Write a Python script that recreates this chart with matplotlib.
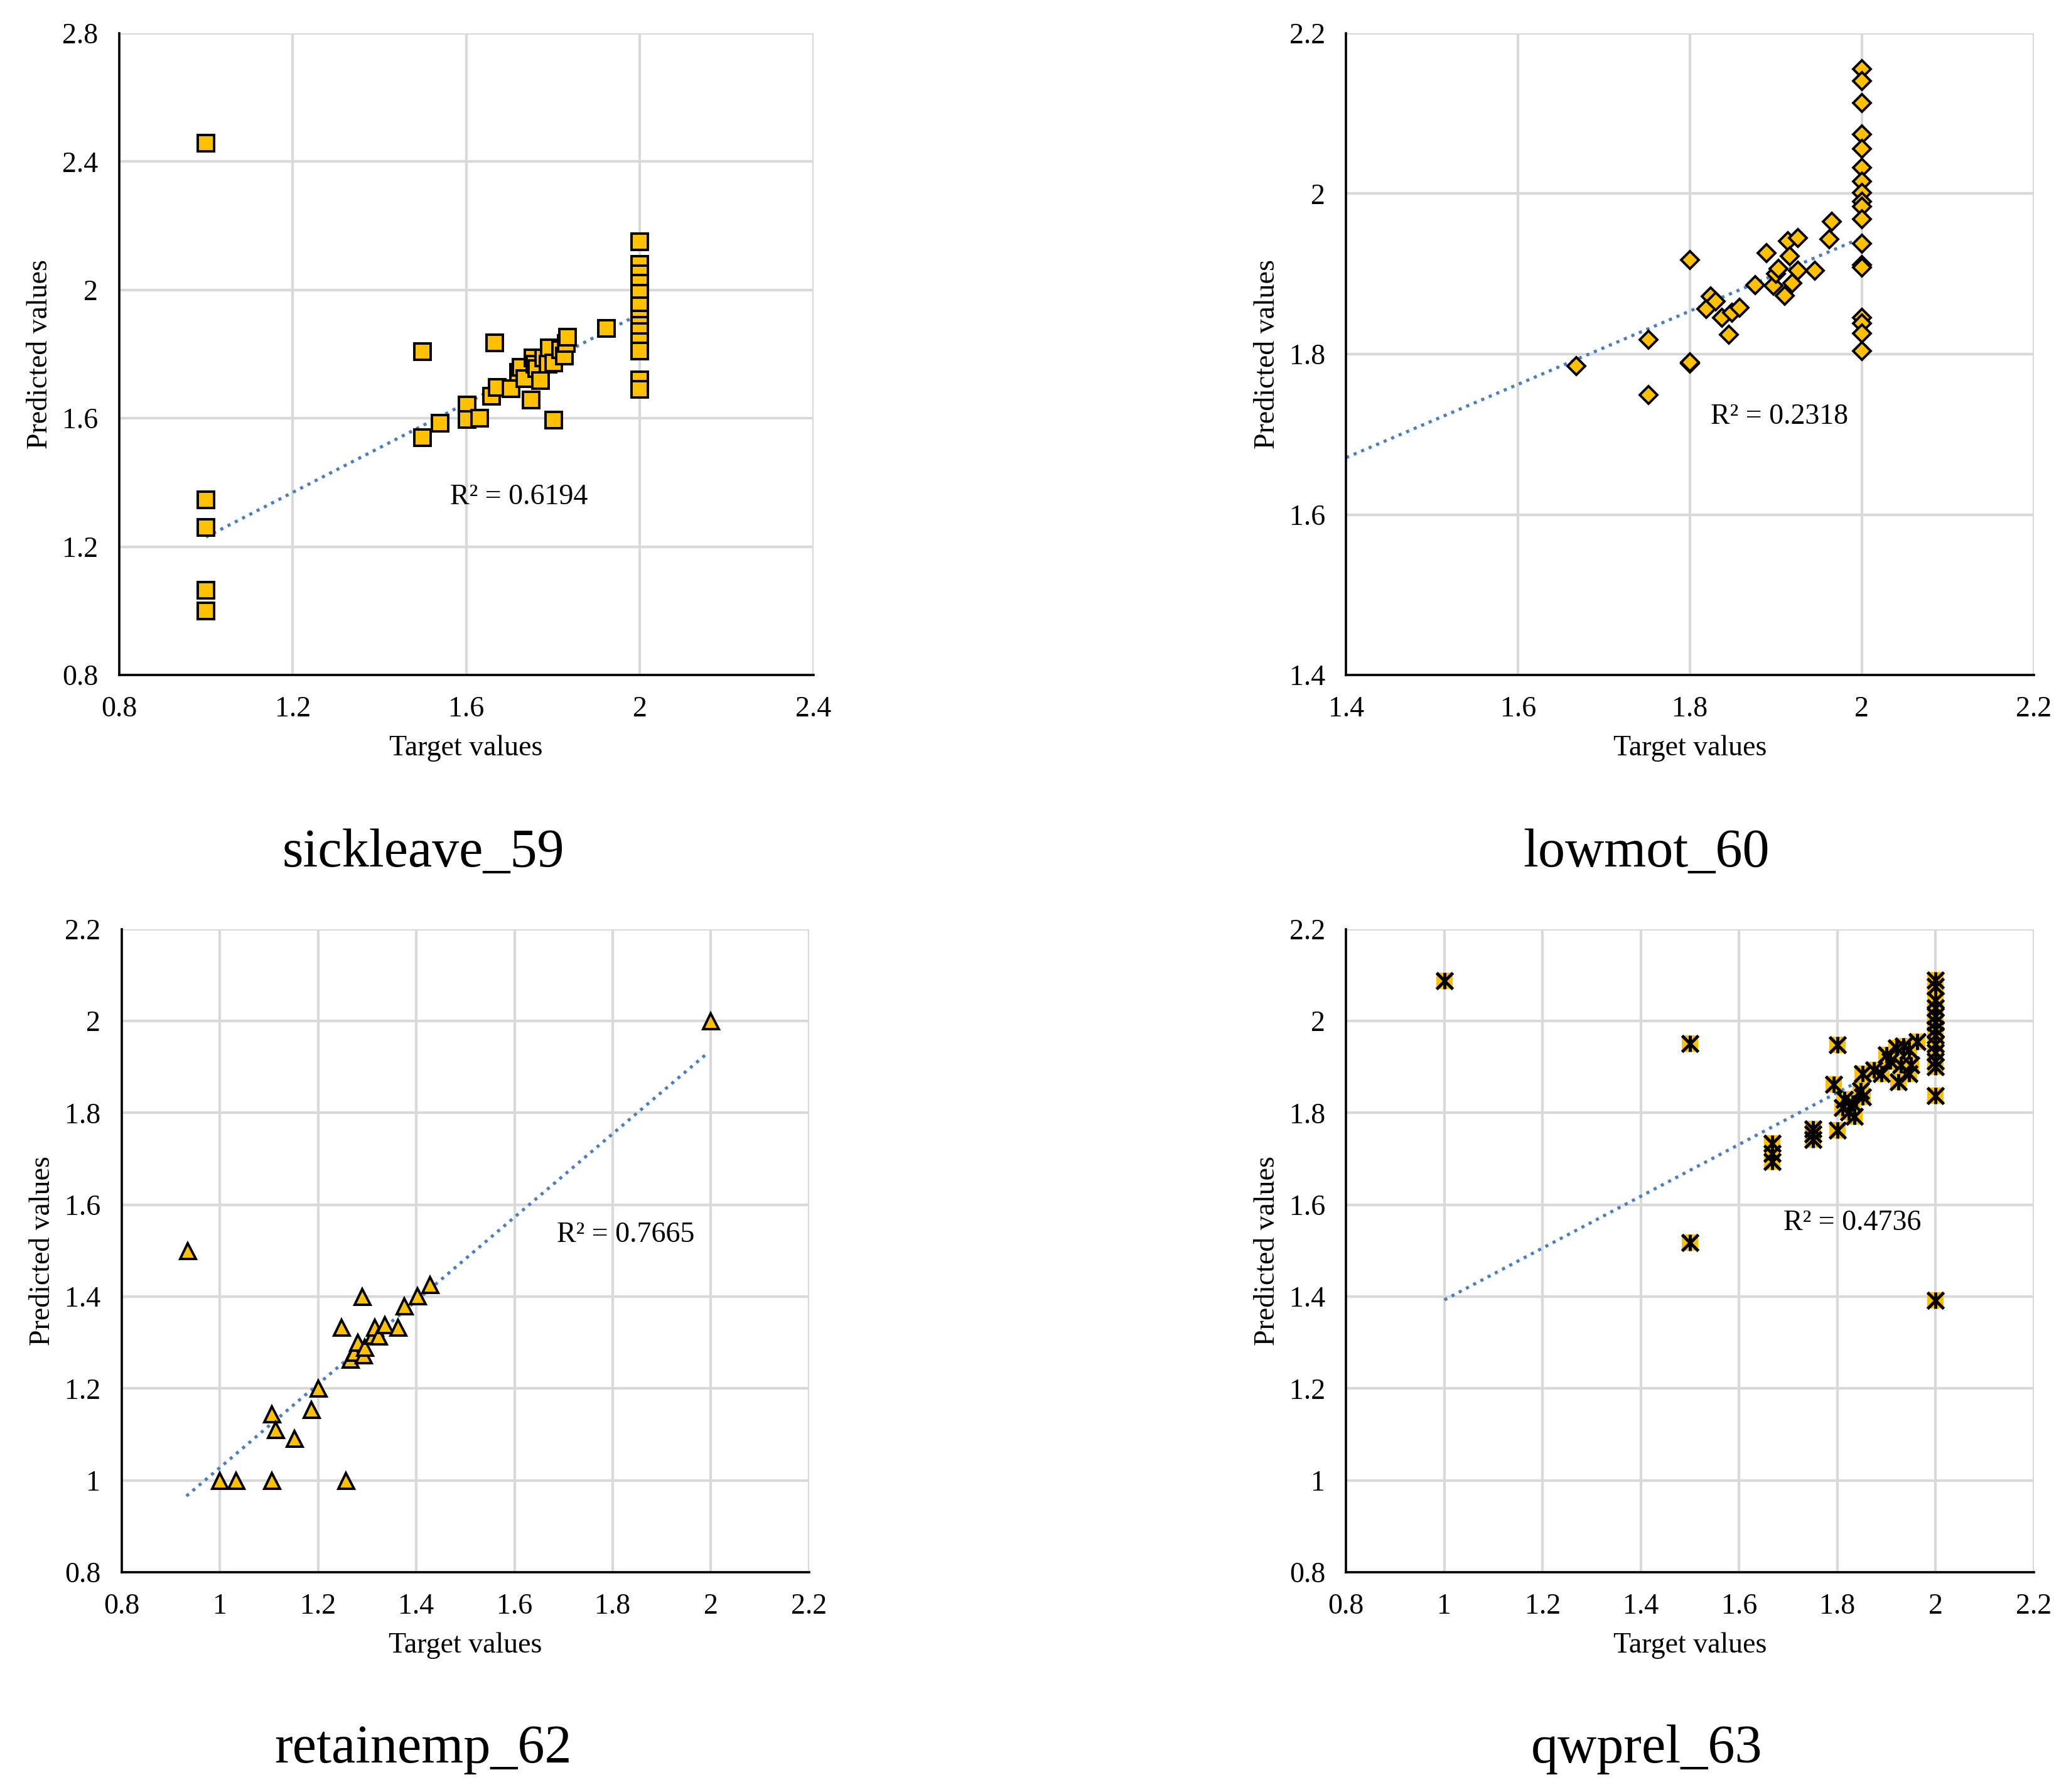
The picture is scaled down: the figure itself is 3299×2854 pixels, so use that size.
import numpy as np
import matplotlib
matplotlib.use("Agg")
import matplotlib.pyplot as plt

plt.rcParams['font.family'] = ['Liberation Serif', 'DejaVu Serif']

GOLD = "#FFC000"
TREND = "#4A7EC4"
GRID = "#D9D9D9"

# sickleave_59
sick_x = [1.0, 1.0, 1.0, 1.0, 1.0,
          1.5, 1.5, 1.54, 1.602, 1.602, 1.631, 1.659, 1.666, 1.672, 1.704,
          1.720, 1.727, 1.735, 1.749, 1.754, 1.759, 1.763, 1.771, 1.778, 1.788,
          1.792, 1.801, 1.802, 1.817, 1.826, 1.831, 1.834, 1.923,
          2.0, 2.0, 2.0, 2.0, 2.0, 2.0, 2.0, 2.0, 2.0, 2.0, 2.0, 2.0, 2.0]
sick_y = [2.458, 1.346, 1.259, 1.064, 1.0,
          1.807, 1.539, 1.584, 1.642, 1.597, 1.600, 1.668, 1.835, 1.697, 1.692,
          1.743, 1.759, 1.723, 1.658, 1.788, 1.768, 1.755, 1.717, 1.788, 1.768,
          1.820, 1.594, 1.772, 1.814, 1.794, 1.833, 1.852, 1.880,
          2.15, 2.08, 2.05, 2.02, 1.99, 1.95, 1.91, 1.89, 1.87, 1.84, 1.81, 1.72, 1.69]
sick_trend_x = [1.0, 2.0]
sick_trend_y = [1.230, 1.925]

# lowmot_60
low_x = [1.668, 1.752, 1.752, 1.8, 1.8, 1.8, 1.819, 1.824, 1.830, 1.837, 1.845,
         1.849, 1.858, 1.876, 1.889, 1.897, 1.9, 1.903, 1.910, 1.914, 1.916,
         1.919, 1.926, 1.926, 1.945, 1.962, 1.965,
         2.0, 2.0, 2.0, 2.0, 2.0, 2.0, 2.0, 2.0, 2.0, 2.0, 2.0, 2.0, 2.0, 2.0,
         2.0, 2.0, 2.0, 2.0]
low_y = [1.785, 1.818, 1.749, 1.917, 1.788, 1.790, 1.856, 1.872, 1.866, 1.845, 1.824,
         1.852, 1.858, 1.886, 1.926, 1.885, 1.9, 1.906, 1.873, 1.941, 1.922,
         1.888, 1.945, 1.904, 1.904, 1.943, 1.965,
         2.155, 2.140, 2.113, 2.074, 2.056, 2.032, 2.015, 2.001, 1.99, 1.984, 1.968,
         1.938, 1.911, 1.908, 1.845, 1.838, 1.826, 1.804]
low_trend_x = [1.4, 2.0]
low_trend_y = [1.671, 1.945]

# retainemp_62
ret_x = [0.935, 1.0, 1.033, 1.106, 1.257, 1.106, 1.114, 1.152, 1.187, 1.2,
         1.248, 1.266, 1.273, 1.281, 1.290, 1.292, 1.295, 1.312, 1.315, 1.323,
         1.336, 1.363, 1.376, 1.402, 1.428, 2.0]
ret_y = [1.5, 1.0, 1.0, 1.0, 1.0, 1.144, 1.11, 1.091, 1.154, 1.201,
         1.333, 1.264, 1.279, 1.3, 1.4, 1.273, 1.29, 1.316, 1.333, 1.314,
         1.339, 1.333, 1.379, 1.401, 1.426, 2.0]
ret_trend_x = [0.932, 1.994]
ret_trend_y = [0.966, 1.931]

# qwprel_63
qw_x = [1.0, 1.5, 1.5, 1.668, 1.668, 1.668, 1.75, 1.75, 1.75, 1.793, 1.8, 1.8,
        1.81, 1.814, 1.823, 1.831, 1.835, 1.848, 1.852, 1.852, 1.874, 1.89,
        1.9, 1.908, 1.921, 1.925, 1.929, 1.934, 1.946, 1.946, 1.95, 1.963,
        2.0, 2.0, 2.0, 2.0, 2.0, 2.0, 2.0, 2.0, 2.0, 2.0, 2.0, 2.0, 2.0, 2.0]
qw_y = [2.088, 1.951, 1.518, 1.733, 1.712, 1.694, 1.765, 1.754, 1.742, 1.862, 1.948, 1.763,
        1.812, 1.830, 1.802, 1.821, 1.793, 1.849, 1.835, 1.886, 1.893, 1.886,
        1.927, 1.913, 1.941, 1.867, 1.904, 1.946, 1.937, 1.886, 1.904, 1.955,
        2.089, 2.075, 2.045, 2.029, 2.011, 1.997, 1.983, 1.969, 1.950, 1.932, 1.913,
        1.9, 1.837, 1.392]
qw_trend_x = [1.0, 2.0]
qw_trend_y = [1.393, 1.957]

panels = [
    dict(name="sickleave_59", x=sick_x, y=sick_y, tx=sick_trend_x, ty=sick_trend_y,
         lim=(0.8, 2.4), ylim=(0.8, 2.8), step=0.4, ystep=0.4, marker="s", ms=9.5,
         r2="R² = 0.6194", r2pos=(1.563, 1.354),
         rect=[0.0575, 0.6233, 0.3352, 0.3582], tpos=(0.2043, 0.5237)),
    dict(name="lowmot_60", x=low_x, y=low_y, tx=low_trend_x, ty=low_trend_y,
         lim=(1.4, 2.2), ylim=(1.4, 2.2), step=0.2, ystep=0.2, marker="D", ms=7.3,
         r2="R² = 0.2318", r2pos=(1.824, 1.722),
         rect=[0.650, 0.6233, 0.332, 0.3582], tpos=(0.795, 0.5237)),
    dict(name="retainemp_62", x=ret_x, y=ret_y, tx=ret_trend_x, ty=ret_trend_y,
         lim=(0.8, 2.2), ylim=(0.8, 2.2), step=0.2, ystep=0.2, marker="^", ms=9,
         r2="R² = 0.7665", r2pos=(1.686, 1.535),
         rect=[0.0587, 0.1226, 0.332, 0.3589], tpos=(0.2043, 0.0236)),
    dict(name="qwprel_63", x=qw_x, y=qw_y, tx=qw_trend_x, ty=qw_trend_y,
         lim=(0.8, 2.2), ylim=(0.8, 2.2), step=0.2, ystep=0.2, marker="*", ms=9.5,
         r2="R² = 0.4736", r2pos=(1.691, 1.561),
         rect=[0.650, 0.1226, 0.332, 0.3589], tpos=(0.795, 0.0236)),
]

fig = plt.figure(figsize=(16.495, 14.27), dpi=200)

for p in panels:
    ax = fig.add_axes(p["rect"])
    x = np.array(p["x"])
    y = np.array(p["y"])

    # linear trendline as drawn in the source chart
    ax.plot(p["tx"], p["ty"], linestyle=(0, (1, 1.6)), color=TREND, lw=1.8, zorder=2)

    if p["marker"] == "*":
        ax.plot(x, y, "s", ms=p["ms"], mfc=GOLD, mec=GOLD, mew=0, ls="none", zorder=3)
        ax.plot(x, y, "x", ms=p["ms"], mec="black", mew=1.8, ls="none", zorder=4)
        ax.plot(x, y, "|", ms=p["ms"], mec="black", mew=1.8, ls="none", zorder=4)
    else:
        ax.plot(x, y, p["marker"], ms=p["ms"], mfc=GOLD, mec="black", mew=1.4,
                ls="none", zorder=3)

    ax.set_xlim(*p["lim"])
    ax.set_ylim(*p["ylim"])
    xt = np.arange(p["lim"][0], p["lim"][1] + 1e-9, p["step"])
    yt = np.arange(p["ylim"][0], p["ylim"][1] + 1e-9, p["ystep"])
    ax.set_xticks(xt)
    ax.set_yticks(yt)
    ax.set_xticklabels([f"{v:.1f}".rstrip("0").rstrip(".") for v in xt])
    ax.set_yticklabels([f"{v:.1f}".rstrip("0").rstrip(".") for v in yt])
    ax.tick_params(length=0, labelsize=16.5, pad=12)
    ax.grid(True, color=GRID, lw=1.5, zorder=0)
    ax.set_axisbelow(True)
    for s in ["top", "right"]:
        ax.spines[s].set_visible(False)
    for s in ["left", "bottom"]:
        ax.spines[s].set_linewidth(1.3)
        ax.spines[s].set_zorder(5)
    ax.set_xlabel("Target values", fontsize=16.5, labelpad=7)
    ax.set_ylabel("Predicted values", fontsize=16.5, labelpad=5)
    ax.text(p["r2pos"][0], p["r2pos"][1], p["r2"], fontsize=16.5, ha="left", va="center")
    fig.text(p["tpos"][0], p["tpos"][1], p["name"], fontsize=31, ha="center", va="center")

fig.savefig("out.png", dpi=200, facecolor="white")
